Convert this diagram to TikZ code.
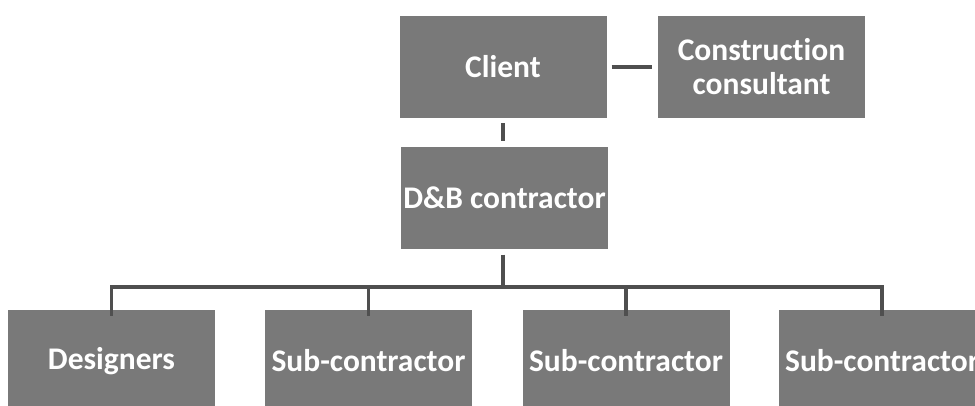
\documentclass[tikz,border=0pt]{standalone}
\usepackage{fontspec}
\setmainfont{Carlito}[Ligatures=NoCommon]
\begin{document}
\begin{tikzpicture}[x=1pt,y=-1pt,
  box/.style={fill=boxgray, draw=none, minimum width=207pt, minimum height=102pt,
    inner sep=0pt, align=center, text=white,
    font=\fontsize{31.5}{34}\selectfont\bfseries},
  conn/.style={draw=linegray, line width=3.3pt}]
\definecolor{boxgray}{HTML}{797979}
\definecolor{linegray}{HTML}{4F4F4F}
\useasboundingbox (0,0) rectangle (975,405);
\clip (0,0) rectangle (975,405);

% organisation boxes
\node[box] (client)  at (503,67)  {Client};
\node[box] (consult) at (761.5,67) {Construction\\consultant};
\node[box] (dnb)     at (504.5,197.5) {D\&B contractor};
\node[box] (designers) at (111.5,361) {Designers};
\node[box] (sub1) at (368.5,361) {Sub-contractor};
\node[box] (sub2) at (626,361) {Sub-contractor};
\node[box] (sub3) at (882,361) {Sub-contractor};

% links
\coordinate (bus) at (503,287);
\draw[conn, shorten <=5pt, shorten >=6pt] (client) -- (consult);
\draw[conn, shorten <=5pt, shorten >=5pt] (client.south -| bus) -- (dnb.north -| bus);
\draw[conn, shorten <=6pt] (dnb.south -| bus) -- (bus);
\draw[conn] ([yshift=-6pt]designers.north) |- (bus) -| ([yshift=-6pt]sub3.north);
\draw[conn] ([yshift=-6pt]sub1.north) -- (sub1.north |- bus);
\draw[conn] ([yshift=-6pt]sub2.north) -- (sub2.north |- bus);
\end{tikzpicture}
\end{document}
